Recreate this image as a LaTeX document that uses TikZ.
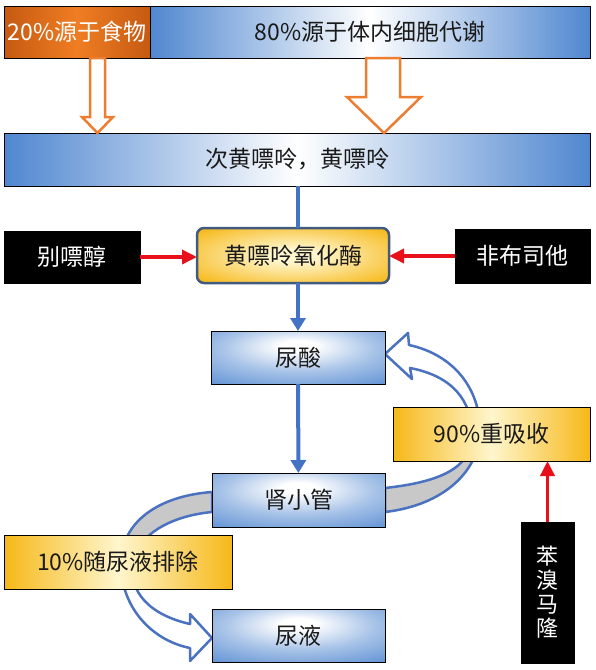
\documentclass[tikz,border=0pt]{standalone}
\usepackage{fontspec}
\setmainfont{Noto Sans CJK SC}
\usetikzlibrary{arrows.meta,calc,backgrounds}

\definecolor{barblue}{RGB}{80,135,208}
\definecolor{boxgold}{RGB}{246,184,24}
\definecolor{paleyellow}{RGB}{255,246,205}
\definecolor{darkorange}{RGB}{197,90,17}
\definecolor{brightorange}{RGB}{240,125,35}
\definecolor{flowblue}{RGB}{68,114,196}
\definecolor{arcblue}{RGB}{74,114,192}
\definecolor{arcgray}{RGB}{200,200,200}
\definecolor{hollorange}{RGB}{237,125,49}
\definecolor{inhibred}{RGB}{232,16,26}
\definecolor{xoborder}{RGB}{65,90,125}
\definecolor{textdark}{RGB}{26,26,26}

\pgfdeclareradialshading{blueglow}{\pgfpoint{0bp}{12bp}}{color(0bp)=(white); color(5bp)=(white); color(22bp)=(barblue!50!white); color(45bp)=(barblue); color(80bp)=(barblue)}
\pgfdeclareradialshading{goldglow}{\pgfpoint{0bp}{0bp}}{color(0bp)=(paleyellow); color(6bp)=(paleyellow); color(34bp)=(boxgold); color(80bp)=(boxgold)}

\tikzset{
  plainbox/.style={draw=black,line width=0.6pt,inner sep=0pt,outer sep=0pt,
    font=\fontsize{23}{26}\selectfont,text=textdark},
  srcbox/.style={plainbox,minimum height=52pt,left color=darkorange,right color=darkorange,
    middle color=brightorange,text=white},
  barbox/.style={plainbox,left color=barblue,right color=barblue,middle color=white},
  stagebox/.style={plainbox,minimum width=174pt,minimum height=53pt,shading=blueglow},
  yieldbox/.style={plainbox,minimum height=54pt,left color=boxgold,right color=boxgold,
    middle color=paleyellow},
  enzymebox/.style={plainbox,draw=xoborder,line width=2.5pt,rounded corners=7pt,
    minimum width=192pt,minimum height=55pt,shading=goldglow},
  drugbox/.style={plainbox,fill=black,text=white},
  flowline/.style={draw=flowblue,line width=4pt},
  flowarrow/.style={flowline,-{Triangle[width=15pt,length=13pt]}},
  inhibit/.style={draw=inhibred,line width=3.5pt,-{Triangle[width=14pt,length=15pt]}},
  hollowarrow/.style={draw=hollorange,fill=white,line width=2.5pt},
  arcline/.style={draw=arcblue,line width=2.5pt,line join=round},
}

% curved block arrows (path text only)
\newcommand{\reabsarc}{($(tubule.east)+(0,-12)$) .. controls (440,482) and (472,468) .. (472,435)
  .. controls (472,400) and (452,376) .. (410,368) -- (412,379) -- ($(ua.east)+(0,-3.5)$)
  -- (408,333) -- (409,345) .. controls (455,355) and (480,390) .. (480,430)
  .. controls (480,470) and (445,505) .. ($(tubule.east)+(0,12)$) -- cycle}
\newcommand{\excrarc}{($(tubule.west)+(0,-8)$) .. controls (158,496) and (122,522) .. (121,562)
  .. controls (120,605) and (150,640) .. (190,648) -- (190,661) -- ($(urine.west)+(0,2.5)$)
  -- (190,614) -- (190,624) .. controls (150,615) and (128,592) .. (133,562)
  .. controls (138,535) and (170,516) .. ($(tubule.west)+(0,12)$) -- cycle}

\begin{document}
\begin{tikzpicture}[x=1pt,y=-1pt,>=Latex]
\useasboundingbox (0,0) rectangle (595,670);
%%
\node (src1) at (77,32) [srcbox,minimum width=146pt] {20\%源于食物};
  \node (src2) at (370,32) [barbox,minimum width=440pt,minimum height=52pt] {80\%源于体内细胞代谢};
  \node (purine) at (297,159.5) [barbox,minimum width=586pt,minimum height=53pt] {次黄嘌呤，黄嘌呤};
  \node (xo) at (293,255.5) [enzymebox] {黄嘌呤氧化酶};
  \node (allo) at (72,257) [drugbox,minimum width=136pt,minimum height=52pt] {别嘌醇};
  \node (febu) at (522.5,256) [drugbox,minimum width=135pt,minimum height=54pt] {非布司他};
  \node (ua) at (298,357.5) [stagebox] {尿酸};
  \node (tubule) at (298.5,500) [stagebox,minimum width=173pt,minimum height=54pt] {肾小管};
  \node (reabs) at (491.5,434) [yieldbox,minimum width=197pt] {90\%重吸收};
  \node (excr) at (118,562) [yieldbox,minimum width=228pt] {10\%随尿液排除};
  \node (urine) at (298.5,635.5) [stagebox,minimum width=173pt] {尿液};
  \node (benz) at (547.5,592.5) [drugbox,minimum width=53pt,minimum height=141pt,align=center,
    font=\fontsize{22}{24}\selectfont] {苯\\溴\\马\\隆};
%
\begin{scope}[on background layer]
  \fill[white] (0,0) rectangle (595,670);
  \begin{scope}
    \clip (380,434) rectangle (500,530);
    \fill[arcgray] \reabsarc;
  \end{scope}
  \draw[arcline] \reabsarc;
  \begin{scope}
    \clip (100,480) rectangle (215,562);
    \fill[arcgray] \excrarc;
  \end{scope}
  \draw[arcline] \excrarc;
\end{scope}
%
  \draw[hollowarrow] (90,58) -- (90,117) -- (82,117) -- (97.5,133) -- (113,117) -- (105,117) -- (105,58) -- cycle;
  \draw[hollowarrow] (366,58) -- (366,97) -- (347,97) -- (384,133) -- (421,97) -- (400,97) -- (400,58) -- cycle;
  \draw[flowline] (purine.south -| ua) -- (xo.north -| ua);
  \draw[flowarrow] (xo.south -| ua) -- (ua.north);
  \draw[flowarrow] (ua) -- (tubule);
  \draw[inhibit] (allo.east) -- (allo.east -| xo.west);
  \draw[inhibit] (febu.west) -- (febu.west -| xo.east);
  \draw[inhibit] (benz.north) -- (benz.north |- reabs.south);
%
\end{tikzpicture}
\end{document}
